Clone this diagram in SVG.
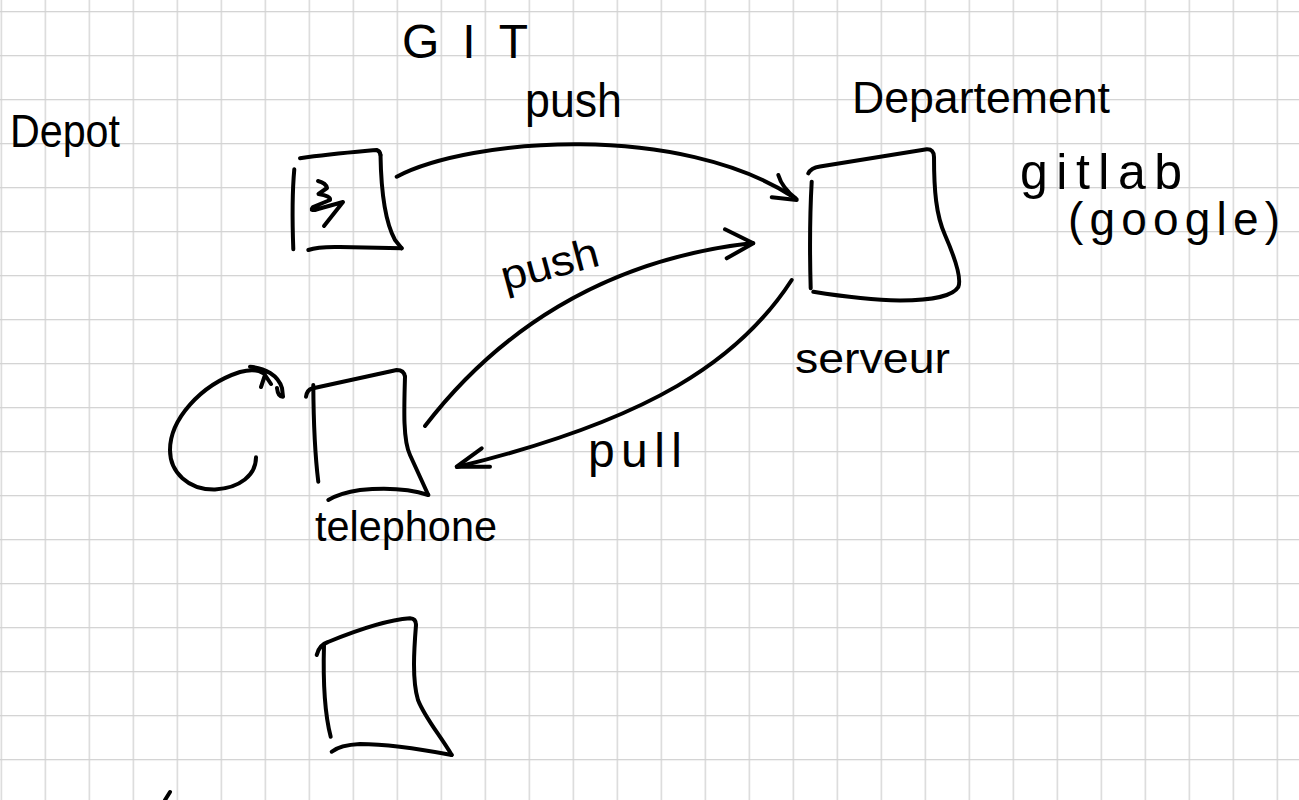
<svg xmlns="http://www.w3.org/2000/svg" width="1299" height="800" viewBox="0 0 1299 800">
<style>
.ink{fill:none;stroke:#000;stroke-width:4;stroke-linecap:round;stroke-linejoin:round}
.lbl{font-family:"Liberation Sans","DejaVu Sans",sans-serif;fill:#000}
</style>
<defs>
<pattern id="grid" width="44" height="44" patternUnits="userSpaceOnUse" x="0.65" y="11.05">
<path d="M0 0.65H44M0.65 0V44" fill="none" stroke="#d2d2d2" stroke-width="1.3"/>
</pattern>
</defs>
<rect width="1299" height="800" fill="#fff"/>
<rect width="1299" height="800" fill="url(#grid)"/>

<g id="depot-repo">
<path class="ink" d="M294.3,169.3 Q291.5,200 293.3,249.3"/>
<path class="ink" d="M300,158.3 C330,154 355,152 376.7,150 Q380,151 380.5,155"/>
<path class="ink" d="M380.5,155 C381,185 384,220 395,240 L401.7,248.3"/>
<path class="ink" d="M308.3,250 Q318,246.5 340,247 L401.7,248.3"/>
<path class="ink" d="M318,181 Q326,183 327,188 L318.5,194 Q331,196 330,200 L313,207 Q309,212 318,209 L343,202 L324,226"/>
</g>

<g id="server">
<path class="ink" d="M808.3,173.3 Q811,168 820,166.5 L926.7,149.3 Q934,149 934,157 C934,190 936,215 945,235 C955,258 962,278 958.3,287 C953,296 935,300 900,300.5 C870,300 840,296 813.3,291.7"/>
<path class="ink" d="M811.7,181.7 Q809,230 810.7,288.3"/>
</g>

<g id="telephone">
<path class="ink" d="M306,396.7 Q307,390 312,388.5 L396.7,370 Q404,370 405,376.7"/>
<path class="ink" d="M405,376.7 C404,410 403,440 410,455 L428.3,495"/>
<path class="ink" d="M313.3,385 C313.5,420 315,455 318.3,481.7"/>
<path class="ink" d="M328.3,500 Q340,493 360,490 C385,487.5 410,489 428.3,495"/>
</g>

<g id="bottom-box">
<path class="ink" d="M316.7,655 Q319,645 328,642 C350,633 385,620 410,618.3 Q416,618.5 416,625"/>
<path class="ink" d="M416,625 C414,650 412,680 418,700 C425,718 440,735 451.7,755"/>
<path class="ink" d="M324,645 C323,680 325,715 330.7,736.7"/>
<path class="ink" d="M331.7,751.7 Q340,745 360,744 C390,744 420,749 451.7,755"/>
</g>

<g id="connectors">
<path class="ink" d="M396.7,176.7 C470,138 680,122 795,198"/>
<path class="ink" d="M771.7,197.3 L796.7,200 M778.3,175 Q782,188 796.7,199.3"/>
<path class="ink" d="M425,426 C495,335 600,260 753,243"/>
<path class="ink" d="M725,229.3 L753.3,243.3 L726.7,258.3"/>
<path class="ink" d="M791.7,280 C740,360 650,420 457,467"/>
<path class="ink" d="M481.7,448.3 L456.7,466.7 L490,466.7"/>
<path class="ink" d="M256,457.3 C256,475 240,488 215,489.5 C188,490 170,472 170,450 C170,420 200,385 240,372 Q255,368 263,373"/>
<path class="ink" d="M250,366.7 C265,368 278,375 282,388 L283,396.7 Q278,397 277,388 M261,387 L265,375 L271,384"/>
<path class="ink" d="M170,792 L165,800"/>
</g>

<g id="labels">
<text class="lbl" x="402" y="58" font-size="48" textLength="126" lengthAdjust="spacing">GIT</text>
<text class="lbl" x="10" y="147" font-size="46" textLength="110" lengthAdjust="spacingAndGlyphs">Depot</text>
<text class="lbl" x="525" y="117" font-size="48" textLength="97" lengthAdjust="spacingAndGlyphs">push</text>
<text class="lbl" x="852" y="113" font-size="44" textLength="258" lengthAdjust="spacingAndGlyphs">Departement</text>
<text class="lbl" x="1020" y="189" font-size="50" textLength="162" lengthAdjust="spacing">gitlab</text>
<text class="lbl" x="1068" y="235" font-size="46" textLength="212" lengthAdjust="spacing">(google)</text>
<text class="lbl" x="505" y="291" font-size="42" textLength="100" lengthAdjust="spacingAndGlyphs" transform="rotate(-15 505 291)">push</text>
<text class="lbl" x="795" y="373" font-size="42" textLength="155" lengthAdjust="spacingAndGlyphs">serveur</text>
<text class="lbl" x="588" y="467" font-size="48" textLength="94" lengthAdjust="spacing">pull</text>
<text class="lbl" x="315" y="541" font-size="42" textLength="182" lengthAdjust="spacingAndGlyphs">telephone</text>
</g>
</svg>
